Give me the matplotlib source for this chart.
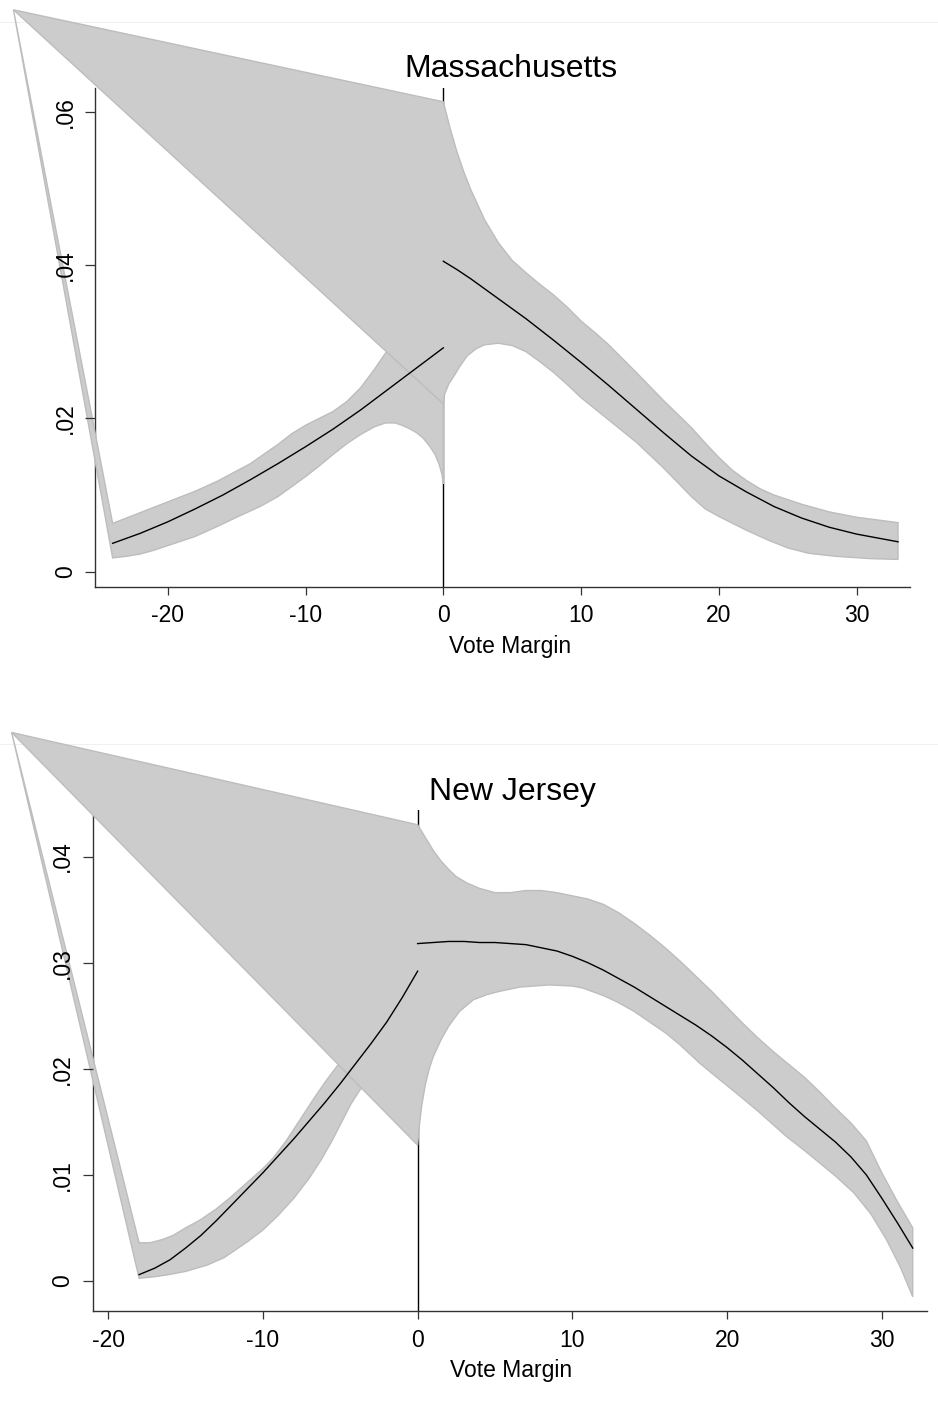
import matplotlib
matplotlib.use("Agg")
import matplotlib.pyplot as plt

plt.rcParams['font.family'] = ['Liberation Sans', 'DejaVu Sans']

W, H = 938, 1422

# ---- Massachusetts ----
ma_anchor = (-31.2, 0.0733)
ma_left_x = [-24, -22, -20, -18, -16, -14, -12, -10, -8, -6, -4, -2, 0]
ma_left_y = [0.0037, 0.0050, 0.0065, 0.0082, 0.0100, 0.0120, 0.0141, 0.0163, 0.0186, 0.0211,
             0.0238, 0.0265, 0.0292]
ma_left_hi_x = [-24, -22, -20, -18, -16.4, -14, -12, -11, -10, -8, -7, -6, -5, -4.2, -3, -2, 0]
ma_left_hi = [0.0063, 0.0077, 0.0091, 0.0105, 0.0118, 0.0141, 0.0166, 0.0180, 0.0191, 0.0209,
              0.0222, 0.0240, 0.0264, 0.0285, 0.031, 0.034, 0.040]
ma_left_lo_x = [-24, -23, -22, -21, -20, -18, -16.4, -15, -13.3, -12, -11.15, -10, -9, -8, -7, -6,
                -5, -4.2, -3.5, -3, -2.5, -2, -1.5, -1, -0.6, -0.3, -0.1, 0]
ma_left_lo = [0.0018, 0.0020, 0.0023, 0.0028, 0.0034, 0.0046, 0.0059, 0.0071, 0.0085, 0.0098,
              0.0109, 0.0124, 0.0138, 0.0153, 0.0167, 0.0179, 0.0189, 0.0194, 0.0194, 0.0191,
              0.0187, 0.0182, 0.0175, 0.0164, 0.0153, 0.0140, 0.0127, 0.0115]
ma_right_x = [0, 1, 2, 3, 4, 6, 8, 10, 12, 14, 16, 18, 20, 22, 24, 26, 28, 30, 33]
ma_right_y = [0.0405, 0.0394, 0.0382, 0.0369, 0.0356, 0.0330, 0.0302, 0.0273, 0.0243, 0.0212,
              0.0181, 0.0151, 0.0125, 0.0104, 0.0085, 0.0070, 0.0058, 0.0049, 0.0039]
ma_right_hi_x = [0, 0.5, 1, 1.5, 2, 3, 4, 5, 6, 7, 8, 9, 10, 11, 12, 14, 16, 18, 19, 20, 21, 22,
                 23, 24, 26, 28, 30, 33]
ma_right_hi = [0.0613, 0.0578, 0.0547, 0.0521, 0.0498, 0.0459, 0.0429, 0.0406, 0.0390, 0.0375,
               0.0361, 0.0345, 0.0327, 0.0312, 0.0296, 0.0260, 0.0223, 0.0188, 0.0168, 0.0149,
               0.0132, 0.0119, 0.0108, 0.0100, 0.0088, 0.0078, 0.0071, 0.0064]
ma_right_lo_x = [0, 0.1, 0.4, 0.8, 1.2, 1.76, 2.4, 3, 4, 5, 6, 7, 8, 9, 10, 12, 14, 16, 18, 19, 20,
                 21, 22, 23.6, 25, 26.5, 28.5, 31, 33]
ma_right_lo = [0.0219, 0.0232, 0.0245, 0.0256, 0.0268, 0.0282, 0.0291, 0.0296, 0.0298, 0.0295,
               0.0287, 0.0274, 0.0260, 0.0244, 0.0227, 0.0198, 0.0169, 0.0135, 0.0098, 0.0082,
               0.0072, 0.0063, 0.0054, 0.0041, 0.0031, 0.0024, 0.0020, 0.0017, 0.0016]
ma_yticks = [0, 0.02, 0.04, 0.06]
ma_ylabels = ['0', '.02', '.04', '.06']

# ---- New Jersey ----
nj_anchor = (-26.24, 0.0517)
nj_left_x = [-18, -17, -16, -15, -14, -13, -12, -11, -10, -9, -8, -7, -6, -5, -4, -3, -2, -1, 0]
nj_left_y = [0.0006, 0.0012, 0.0020, 0.0031, 0.0043, 0.0057, 0.0072, 0.0087, 0.0102, 0.0118,
             0.0134, 0.0151, 0.0168, 0.0186, 0.0205, 0.0224, 0.0244, 0.0267, 0.0292]
nj_left_hi_x = [-18, -17.3, -16.5, -15.8, -15, -14, -13, -12, -11, -10, -9.33, -8.5, -7.6, -6.75,
                -6, -5.13, -4, -2, 0]
nj_left_hi = [0.0036, 0.0036, 0.0039, 0.0043, 0.0050, 0.0058, 0.0068, 0.0080, 0.0093, 0.0106,
              0.0116, 0.0132, 0.0152, 0.0171, 0.0187, 0.0204, 0.0227, 0.027, 0.032]
nj_left_lo_x = [-18, -17, -16.2, -15, -13.6, -12.5, -11.9, -11, -10, -9, -8, -7, -6.2, -5.5, -4.8,
                -4.3, -3.73, -2, 0]
nj_left_lo = [0.00025, 0.0004, 0.00057, 0.0009, 0.0015, 0.0022, 0.0028, 0.0037, 0.0048, 0.0062,
              0.0078, 0.0097, 0.0115, 0.0133, 0.0153, 0.0167, 0.0180, 0.0205, 0.022]
nj_right_x = [0, 1, 2, 3, 4, 5, 6, 7, 8, 9, 10, 11, 12, 13, 14, 15, 16, 17, 18, 19, 20, 21, 22, 23,
              24, 25, 26, 27, 28, 29, 30, 31, 32]
nj_right_y = [0.0318, 0.0319, 0.0320, 0.0320, 0.0319, 0.0319, 0.0318, 0.0317, 0.0314, 0.0311,
              0.0306, 0.0300, 0.0293, 0.0285, 0.0277, 0.0268, 0.0259, 0.0250, 0.0241, 0.0231,
              0.0220, 0.0208, 0.0195, 0.0182, 0.0168, 0.0155, 0.0143, 0.0131, 0.0117, 0.0100,
              0.0078, 0.0055, 0.0031]
nj_right_hi_x = [0, 0.5, 1, 1.5, 2, 2.5, 3.2, 4, 5, 6, 7, 8, 9, 10, 11, 12, 13, 14, 15, 16, 17, 18,
                 19, 20, 21, 22, 23, 24, 25, 26, 27, 28, 29, 30, 31, 32]
nj_right_hi = [0.0430, 0.0418, 0.0406, 0.0396, 0.0388, 0.0381, 0.0375, 0.0370, 0.0366, 0.0366,
               0.0368, 0.0368, 0.0366, 0.0363, 0.0360, 0.0355, 0.0347, 0.0337, 0.0326, 0.0314,
               0.0301, 0.0287, 0.0273, 0.0258, 0.0243, 0.0229, 0.0216, 0.0204, 0.0192, 0.0178,
               0.0163, 0.0149, 0.0132, 0.0102, 0.0075, 0.0050]
nj_right_lo_x = [0, 0.1, 0.26, 0.5, 0.75, 1, 1.5, 2, 2.7, 3.6, 4.5, 5.3, 6.6, 8.5, 10, 10.7, 12,
                 12.9, 14, 15, 16.1, 17, 18.25, 19.5, 20.6, 22, 23.85, 25, 26, 27, 28.2, 29.3,
                 30.3, 31.2, 32]
nj_right_lo = [0.0128, 0.0145, 0.0165, 0.0185, 0.0200, 0.0211, 0.0227, 0.0240, 0.0254, 0.0265,
               0.0270, 0.0273, 0.0277, 0.0279, 0.0278, 0.0276, 0.0269, 0.0263, 0.0254, 0.0244,
               0.0233, 0.0222, 0.0205, 0.0190, 0.0177, 0.0160, 0.0136, 0.0123, 0.0111, 0.0099,
               0.0083, 0.0063, 0.0039, 0.0013, -0.0015]
nj_yticks = [0, 0.01, 0.02, 0.03, 0.04]
nj_ylabels = ['0', '.01', '.02', '.03', '.04']

xticks = [-20, -10, 0, 10, 20, 30]
xlabels = ['-20', '-10', '0', '10', '20', '30']

FILL = '#cccccc'
EDGE = '#bdbdbd'
AXC = '#333333'


def band(ax, anchor, hi_x, hi_y, lo_x, lo_y):
    xs = [anchor[0]] + hi_x + lo_x[::-1]
    ys = [anchor[1]] + hi_y + lo_y[::-1]
    ax.fill(xs, ys, facecolor=FILL, edgecolor=EDGE, lw=1.0, clip_on=False, zorder=3)


def panel(fig, box, xlim, ylim, yticks, ylabels, anchor, left, right, title, title_px, label_px):
    l, t, r, b = box
    ax = fig.add_axes([l / W, 1 - b / H, (r - l) / W, (b - t) / H])
    ax.patch.set_visible(False)
    ax.set_xlim(xlim)
    ax.set_ylim(ylim)
    for s in ['top', 'right']:
        ax.spines[s].set_visible(False)
    for s in ['left', 'bottom']:
        ax.spines[s].set_color(AXC)
        ax.spines[s].set_linewidth(1.0)
    ax.set_xticks(xticks, xlabels)
    ax.set_yticks(yticks, ylabels)
    ax.tick_params(axis='x', length=5.8, width=0.9, color=AXC, pad=7, labelsize=16.5)
    ax.tick_params(axis='y', length=7.2, width=0.9, color=AXC, pad=6, labelsize=16.5,
                   labelrotation=90)
    for lab in ax.get_yticklabels():
        lab.set_va('center')
    # keep the tick labels readable above the stray band wedge
    ax.yaxis.set_zorder(5)

    ax.axvline(0, color='black', lw=1.0, zorder=2)

    band(ax, anchor, left[2], left[3], left[4], left[5])
    band(ax, anchor, right[2], right[3], right[4], right[5])
    ax.plot(left[0], left[1], color='black', lw=1.0, zorder=4)
    ax.plot(right[0], right[1], color='black', lw=1.0, zorder=4)

    fig.text(title_px[0] / W, 1 - title_px[1] / H, title, ha='center', va='baseline', fontsize=23)
    fig.text(label_px[0] / W, 1 - label_px[1] / H, 'Vote Margin', ha='center', va='baseline',
             fontsize=16.5)
    return ax


fig = plt.figure(figsize=(W / 100, H / 100), dpi=100)
fig.patch.set_facecolor('white')

# faint outline of the original graph regions
for yl in [22, 744]:
    fig.add_artist(plt.Line2D([0, 1], [1 - yl / H, 1 - yl / H], color='#eef1f1', lw=0.8, zorder=-1))

panel(fig, (95, 88.3, 910, 586.7), (-25.28, 33.87), (-0.00196, 0.06306), ma_yticks, ma_ylabels,
      ma_anchor,
      (ma_left_x, ma_left_y, ma_left_hi_x, ma_left_hi, ma_left_lo_x, ma_left_lo),
      (ma_right_x, ma_right_y, ma_right_hi_x, ma_right_hi, ma_right_lo_x, ma_right_lo),
      'Massachusetts', (511, 77), (510, 653))

panel(fig, (92.7, 810, 927.3, 1311), (-21.0, 32.94), (-0.00283, 0.04439), nj_yticks, nj_ylabels,
      nj_anchor,
      (nj_left_x, nj_left_y, nj_left_hi_x, nj_left_hi, nj_left_lo_x, nj_left_lo),
      (nj_right_x, nj_right_y, nj_right_hi_x, nj_right_hi, nj_right_lo_x, nj_right_lo),
      'New Jersey', (512, 800), (511, 1377))

fig.savefig('out.png', dpi=100, facecolor='white')
